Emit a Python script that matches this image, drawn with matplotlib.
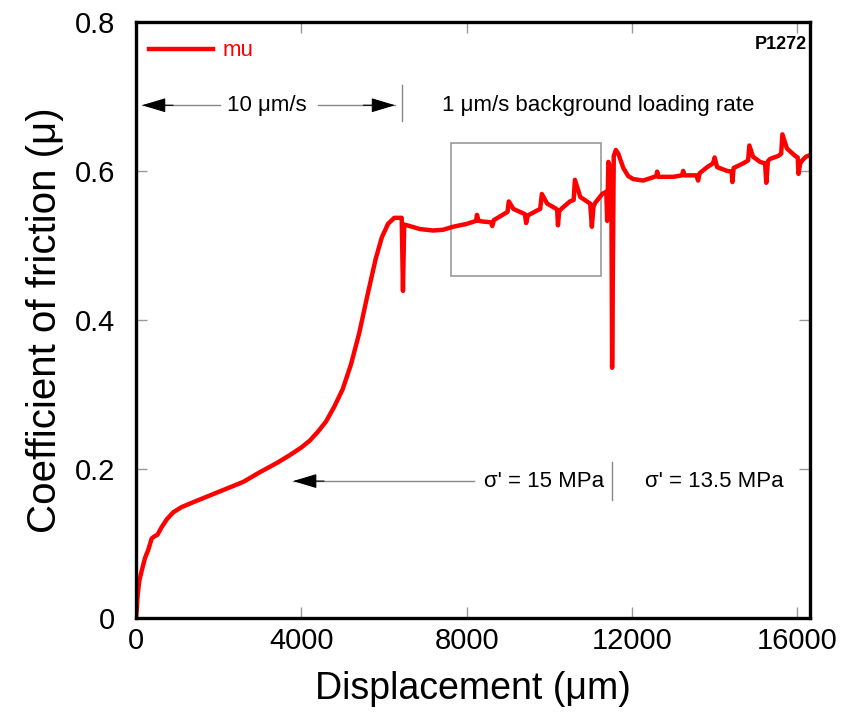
import matplotlib
matplotlib.use('Agg')
from matplotlib import pyplot as plt
from matplotlib.patches import Rectangle

plt.rcParams['font.family'] = ['Liberation Sans', 'DejaVu Sans']

# friction curve (displacement in um, mu)
disp = [0, 20, 40, 80, 145, 220, 300, 380, 450, 520, 620, 750, 900, 1100,
        1400, 1800, 2200, 2600, 3000, 3400, 3700, 4000, 4200, 4400, 4600,
        4800, 5000, 5200, 5400, 5600, 5800, 5950, 6100, 6250, 6430, 6460,
        6490, 6560, 6870, 7190, 7430, 7670, 8010, 8230, 8250, 8290, 8400,
        8590, 8620, 8660, 8810, 8990, 9020, 9130, 9290, 9410, 9440, 9480, 9540,
        9780, 9820, 9950, 10140, 10190, 10210, 10240, 10310, 10500, 10590,
        10620, 10750, 10910, 10990, 11030, 11070, 11110, 11280, 11380, 11400,
        11430, 11500, 11520, 11560, 11610, 11670, 11790, 11910, 12030, 12270,
        12490, 12590, 12610, 12640, 13000, 13210, 13240, 13270, 13560, 13600,
        13640, 13820, 13960, 14000, 14060, 14300, 14410, 14430, 14460, 14540,
        14690, 14810, 14840, 14930, 15100, 15220, 15250, 15290, 15340, 15540,
        15610, 15640, 15750, 15950, 16010, 16030, 16070, 16120, 16210, 16300]
mu = [0.000, 0.012, 0.030, 0.050, 0.065, 0.081, 0.092, 0.107, 0.110, 0.112,
      0.122, 0.133, 0.142, 0.149, 0.156, 0.165, 0.174, 0.183, 0.196, 0.208,
      0.218, 0.229, 0.238, 0.250, 0.264, 0.284, 0.307, 0.340, 0.382, 0.433,
      0.482, 0.511, 0.529, 0.537, 0.537, 0.439, 0.528, 0.527, 0.522, 0.520,
      0.521, 0.525, 0.529, 0.533, 0.541, 0.533, 0.532, 0.531, 0.526, 0.534,
      0.539, 0.545, 0.559, 0.549, 0.545, 0.542, 0.530, 0.540, 0.542, 0.549,
      0.569, 0.556, 0.550, 0.548, 0.527, 0.546, 0.550, 0.559, 0.561, 0.588,
      0.565, 0.559, 0.556, 0.525, 0.552, 0.557, 0.569, 0.572, 0.533, 0.612,
      0.600, 0.336, 0.620, 0.628, 0.623, 0.604, 0.593, 0.589, 0.587, 0.591,
      0.593, 0.599, 0.592, 0.592, 0.594, 0.600, 0.594, 0.594, 0.587, 0.597,
      0.605, 0.610, 0.618, 0.605, 0.600, 0.599, 0.585, 0.604, 0.606, 0.610,
      0.614, 0.634, 0.619, 0.612, 0.610, 0.584, 0.613, 0.616, 0.620, 0.623,
      0.649, 0.630, 0.620, 0.618, 0.596, 0.610, 0.614, 0.619, 0.621]

xticks = [0, 4000, 8000, 12000, 16000]
yticks = [0, 0.2, 0.4, 0.6, 0.8]
ytick_labels = ['0', '0.2', '0.4', '0.6', '0.8']

fig = plt.figure(figsize=(8.55, 7.24), dpi=100)
ax = fig.add_axes([0.159, 0.146, 0.788, 0.824])

ax.plot(disp, mu, color='#ff0000', lw=3.2, label='mu', solid_joinstyle='round')

ax.set_xlim(0, 16300)
ax.set_ylim(0, 0.8)
ax.set_xticks(xticks)
ax.set_xticklabels([str(t) for t in xticks])
ax.set_yticks(yticks)
ax.set_yticklabels(ytick_labels)
ax.tick_params(direction='in', length=8, width=1, color='#999999',
               top=True, right=True, labelsize=21)
ax.tick_params(axis='x', pad=6)
ax.tick_params(axis='y', pad=15)
for s in ax.spines.values():
    s.set_linewidth(2.4)

ax.set_xlabel('Displacement (\u03bcm)', fontsize=27, labelpad=12)
ax.set_ylabel('Coefficient of friction (\u03bc)', fontsize=29, labelpad=8)

leg = ax.legend(loc='center left', bbox_to_anchor=(0.019, 0.951), frameon=False,
                borderpad=0, borderaxespad=0, handlelength=2.9,
                handletextpad=0.4, fontsize=16)
for t in leg.get_texts():
    t.set_color('#ff0000')

ax.text(0.996, 0.961, 'P1272', transform=ax.transAxes, ha='right', va='center',
        fontsize=13, fontweight='bold')

gray = '#888888'
head = dict(arrowstyle='-|>,head_length=1.5,head_width=0.45', color='black',
            lw=0.8, shrinkA=0, shrinkB=0)

# loading rate annotation
ya = 0.688
ax.plot([145, 2030], [ya, ya], color=gray, lw=1)
ax.plot([4400, 6270], [ya, ya], color=gray, lw=1)
ax.annotate('', xy=(145, ya), xytext=(900, ya), arrowprops=head)
ax.annotate('', xy=(6270, ya), xytext=(5500, ya), arrowprops=head)
ax.text(3170, ya, '10 \u03bcm/s', ha='center', va='center', fontsize=16)
ax.plot([6440, 6440], [0.667, 0.715], color=gray, lw=1)
ax.text(7400, ya, '1 \u03bcm/s background loading rate', ha='left',
        va='center', fontsize=16)

# normal stress annotation
yb = 0.184
ax.plot([3800, 8180], [yb, yb], color=gray, lw=1)
ax.annotate('', xy=(3800, yb), xytext=(4550, yb), arrowprops=head)
ax.text(8420, yb, "\u03c3' = 15 MPa", ha='left', va='center', fontsize=16)
ax.plot([11520, 11520], [0.158, 0.210], color=gray, lw=1)
ax.text(12320, yb, "\u03c3' = 13.5 MPa", ha='left', va='center', fontsize=16)

# inset box
ax.add_patch(Rectangle((7620, 0.459), 11250 - 7620, 0.637 - 0.459,
                       fill=False, edgecolor='#999999', lw=1.2))

fig.savefig('out.png', dpi=100)
